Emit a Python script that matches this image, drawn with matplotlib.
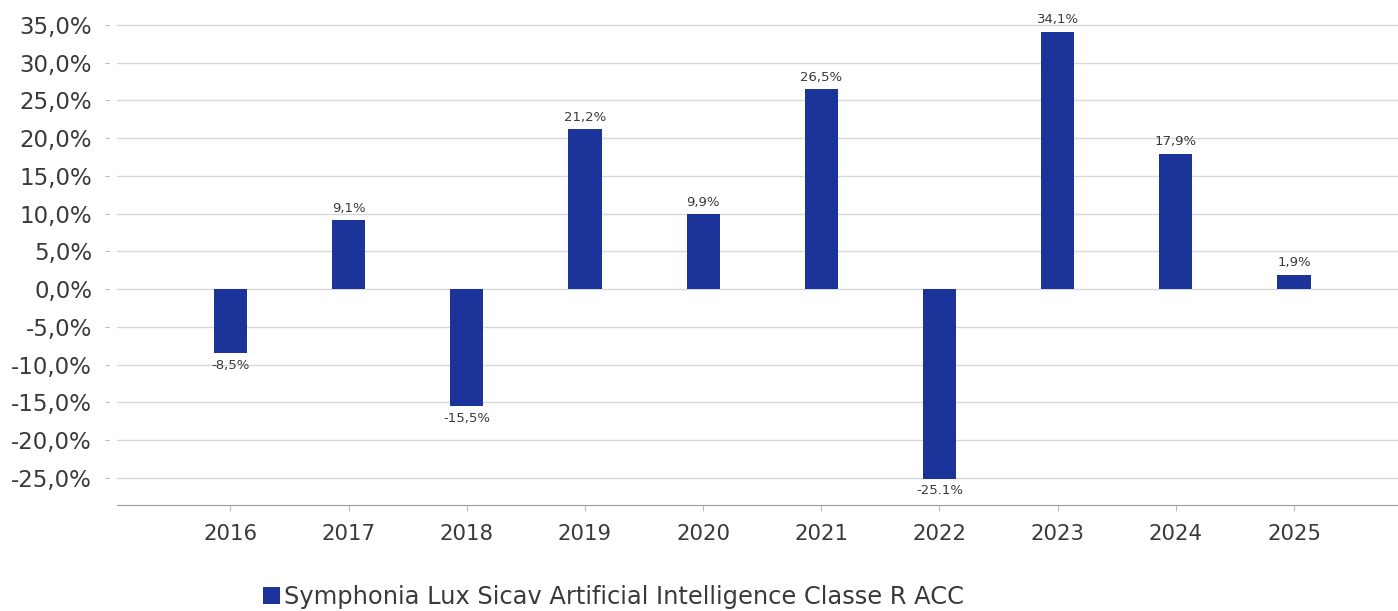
import matplotlib.pyplot as plt
import numpy as np

anni = ['2016', '2017', '2018', '2019', '2020', '2021', '2022', '2023', '2024', '2025']
rendimenti = [-8.5, 9.1, -15.5, 21.2, 9.9, 26.5, -25.1, 34.1, 17.9, 1.9]
etichette = ['-8,5%', '9,1%', '-15,5%', '21,2%', '9,9%', '26,5%', '-25.1%', '34,1%', '17,9%', '1,9%']
y_ticks = [35, 30, 25, 20, 15, 10, 5, 0, -5, -10, -15, -20, -25]
serie = 'Symphonia Lux Sicav Artificial Intelligence Classe R ACC'

plt.rcParams['font.family'] = ['DejaVu Sans']
blu = '#1c349a'
testo = '#3a3a3a'

fig = plt.figure(figsize=(13.98, 6.11), dpi=100)
ax = fig.add_axes([0.0837, 0.1735, 0.9163, 0.8265])

x = np.arange(len(anni))
bars = ax.bar(x, rendimenti, width=0.28, color=blu, zorder=3, label=serie)

for xi, v, lab in zip(x, rendimenti, etichette):
    if v >= 0:
        ax.annotate(lab, (xi, v), xytext=(0, 4), textcoords='offset points',
                    ha='center', va='bottom', fontsize=9.5, color=testo)
    else:
        ax.annotate(lab, (xi, v), xytext=(0, -4), textcoords='offset points',
                    ha='center', va='top', fontsize=9.5, color=testo)

ax.set_xlim(-0.96, 9.88)
ax.set_ylim(-28.6, 38.3)
ax.set_yticks(y_ticks)
ax.set_yticklabels([f'{t:.1f}%'.replace('.', ',') for t in y_ticks])
ax.set_xticks(x)
ax.set_xticklabels(anni)

ax.grid(axis='y', color='#d9d9d9', linewidth=1, zorder=0)
for s in ['top', 'right', 'left']:
    ax.spines[s].set_visible(False)
ax.spines['left'].set_position(('outward', 6))
ax.spines['bottom'].set_color('#9a9a9a')

ax.tick_params(axis='y', length=3, color='#bbbbbb', pad=9, labelsize=16.5, labelcolor=testo)
ax.tick_params(axis='x', length=4, color='#bbbbbb', pad=10, labelsize=15.3, labelcolor=testo)

fig.legend(handles=[bars], labels=[serie], loc='lower left', bbox_to_anchor=(0.181, -0.012),
           frameon=False, fontsize=17.4, handlelength=0.7, handleheight=0.7,
           handletextpad=0.2, labelcolor=testo, borderaxespad=0)

fig.savefig('out.png', dpi=100)
